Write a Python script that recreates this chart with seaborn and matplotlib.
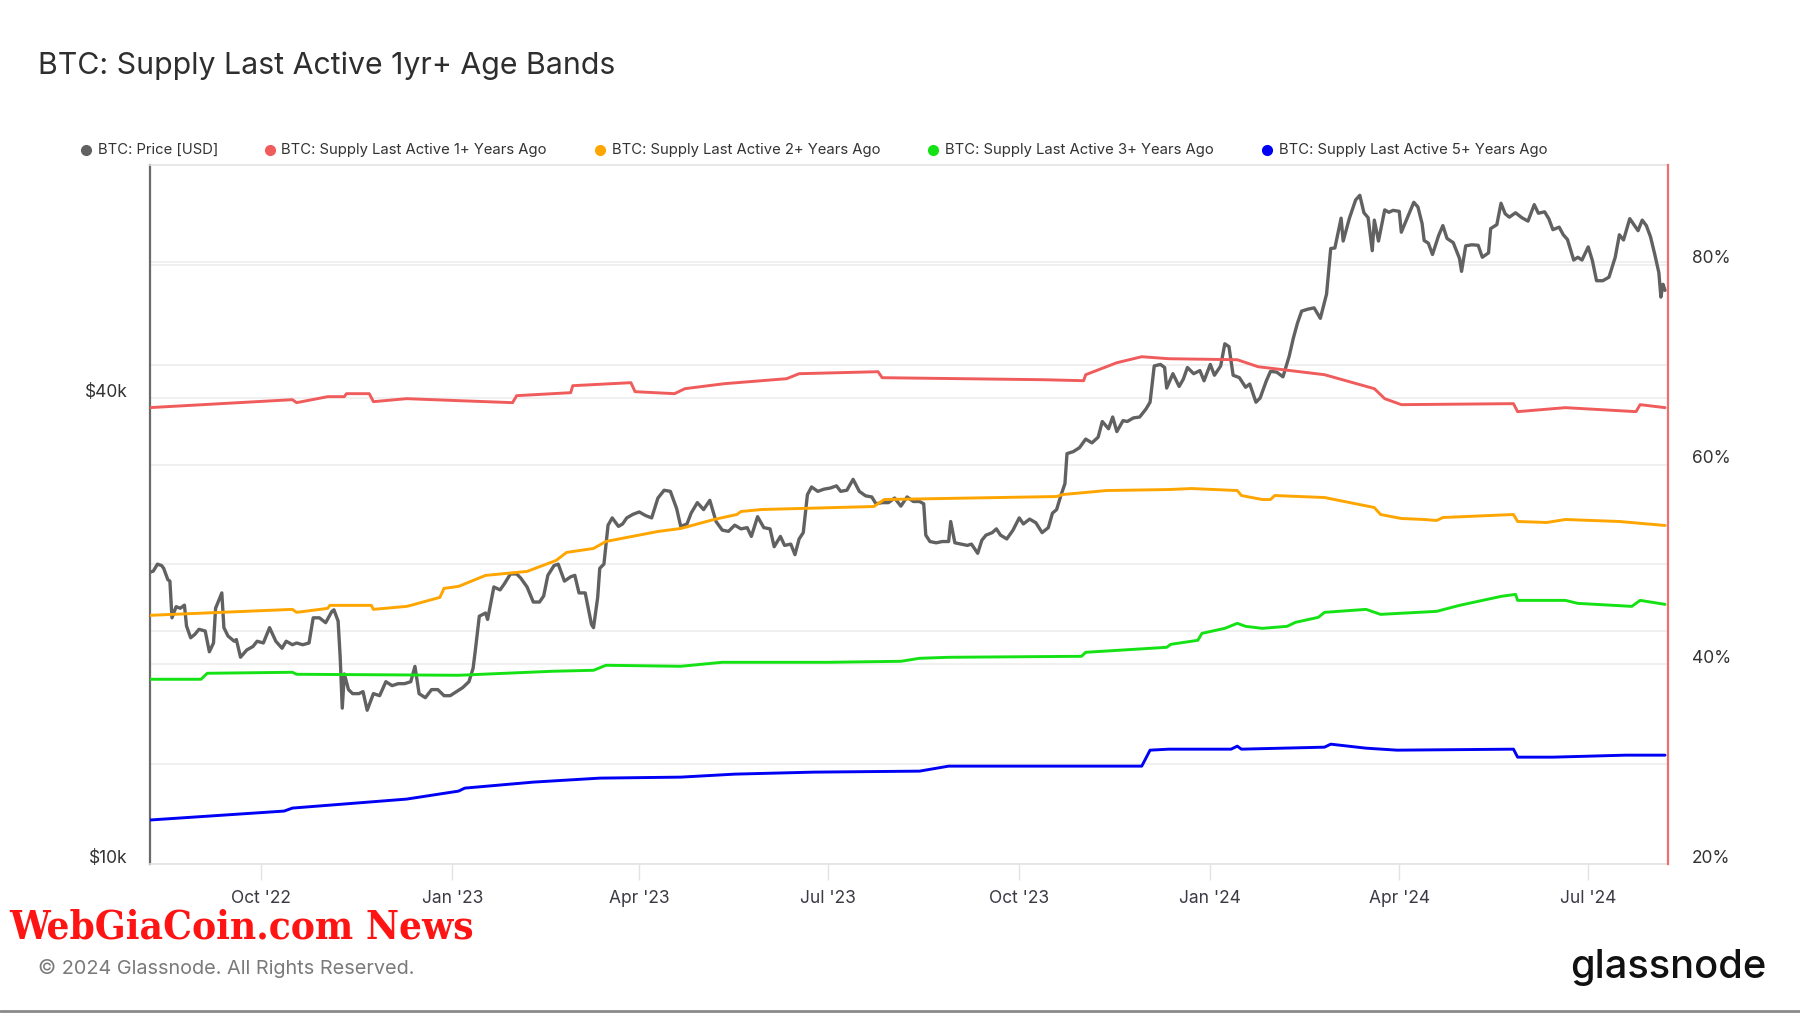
import matplotlib
matplotlib.use("Agg")
import matplotlib.pyplot as plt
import matplotlib.dates as mdates
import matplotlib.ticker as mticker
import matplotlib.transforms as mtransforms
from matplotlib.lines import Line2D
import seaborn as sns
import pandas as pd

# ---------------- data ----------------
price_dates = [
    "2022-08-08", "2022-08-10", "2022-08-12", "2022-08-14", "2022-08-15", "2022-08-17", "2022-08-18",
    "2022-08-19", "2022-08-21", "2022-08-23", "2022-08-25", "2022-08-26", "2022-08-28", "2022-08-30",
    "2022-09-01", "2022-09-04", "2022-09-06", "2022-09-08", "2022-09-09", "2022-09-12", "2022-09-13",
    "2022-09-15", "2022-09-18", "2022-09-19", "2022-09-21", "2022-09-24", "2022-09-27", "2022-09-29",
    "2022-10-02", "2022-10-05", "2022-10-08", "2022-10-11", "2022-10-13", "2022-10-16", "2022-10-18",
    "2022-10-21", "2022-10-24", "2022-10-26", "2022-10-29", "2022-11-01", "2022-11-04", "2022-11-05",
    "2022-11-07", "2022-11-08", "2022-11-09", "2022-11-10", "2022-11-12", "2022-11-14", "2022-11-17",
    "2022-11-19", "2022-11-21", "2022-11-24", "2022-11-27", "2022-11-30", "2022-12-03", "2022-12-06",
    "2022-12-09", "2022-12-12", "2022-12-14", "2022-12-16", "2022-12-19", "2022-12-22", "2022-12-25",
    "2022-12-28", "2022-12-31", "2023-01-03", "2023-01-06", "2023-01-09", "2023-01-11", "2023-01-12",
    "2023-01-14", "2023-01-17", "2023-01-18", "2023-01-21", "2023-01-24", "2023-01-26", "2023-01-29",
    "2023-02-01", "2023-02-03", "2023-02-06", "2023-02-09", "2023-02-12", "2023-02-14", "2023-02-16",
    "2023-02-19", "2023-02-21", "2023-02-24", "2023-02-27", "2023-03-01", "2023-03-03", "2023-03-06",
    "2023-03-09", "2023-03-10", "2023-03-12", "2023-03-13", "2023-03-15", "2023-03-17", "2023-03-19",
    "2023-03-22", "2023-03-24", "2023-03-26", "2023-03-29", "2023-04-01", "2023-04-04", "2023-04-07",
    "2023-04-10", "2023-04-13", "2023-04-16", "2023-04-19", "2023-04-21", "2023-04-24", "2023-04-26",
    "2023-04-29", "2023-05-02", "2023-05-05", "2023-05-08", "2023-05-11", "2023-05-14", "2023-05-17",
    "2023-05-20", "2023-05-23", "2023-05-25", "2023-05-28", "2023-05-31", "2023-06-03", "2023-06-05",
    "2023-06-08", "2023-06-10", "2023-06-13", "2023-06-15", "2023-06-17", "2023-06-19", "2023-06-21",
    "2023-06-23", "2023-06-26", "2023-06-29", "2023-07-02", "2023-07-05", "2023-07-07", "2023-07-10",
    "2023-07-13", "2023-07-16", "2023-07-19", "2023-07-22", "2023-07-24", "2023-07-27", "2023-07-30",
    "2023-08-02", "2023-08-05", "2023-08-08", "2023-08-11", "2023-08-14", "2023-08-16", "2023-08-17",
    "2023-08-19", "2023-08-22", "2023-08-25", "2023-08-28", "2023-08-29", "2023-08-31", "2023-09-03",
    "2023-09-06", "2023-09-08", "2023-09-11", "2023-09-13", "2023-09-15", "2023-09-18", "2023-09-20",
    "2023-09-22", "2023-09-25", "2023-09-28", "2023-10-01", "2023-10-03", "2023-10-06", "2023-10-09",
    "2023-10-12", "2023-10-15", "2023-10-17", "2023-10-19", "2023-10-21", "2023-10-23", "2023-10-24",
    "2023-10-27", "2023-10-30", "2023-11-02", "2023-11-05", "2023-11-08", "2023-11-10", "2023-11-13",
    "2023-11-15", "2023-11-17", "2023-11-20", "2023-11-22", "2023-11-25", "2023-11-28", "2023-12-01",
    "2023-12-03", "2023-12-05", "2023-12-08", "2023-12-10", "2023-12-11", "2023-12-14", "2023-12-17",
    "2023-12-19", "2023-12-21", "2023-12-24", "2023-12-27", "2023-12-29", "2024-01-01", "2024-01-03",
    "2024-01-06", "2024-01-08", "2024-01-10", "2024-01-12", "2024-01-15", "2024-01-18", "2024-01-20",
    "2024-01-23", "2024-01-25", "2024-01-28", "2024-01-30", "2024-02-02", "2024-02-05", "2024-02-08",
    "2024-02-10", "2024-02-12", "2024-02-14", "2024-02-17", "2024-02-20", "2024-02-23", "2024-02-26",
    "2024-02-28", "2024-03-01", "2024-03-04", "2024-03-05", "2024-03-08", "2024-03-11", "2024-03-13",
    "2024-03-15", "2024-03-17", "2024-03-19", "2024-03-20", "2024-03-22", "2024-03-25", "2024-03-27",
    "2024-03-29", "2024-04-01", "2024-04-02", "2024-04-05", "2024-04-08", "2024-04-10", "2024-04-12",
    "2024-04-13", "2024-04-15", "2024-04-17", "2024-04-20", "2024-04-22", "2024-04-24", "2024-04-27",
    "2024-04-30", "2024-05-01", "2024-05-03", "2024-05-06", "2024-05-09", "2024-05-11", "2024-05-14",
    "2024-05-15", "2024-05-18", "2024-05-20", "2024-05-22", "2024-05-24", "2024-05-27", "2024-05-30",
    "2024-06-02", "2024-06-05", "2024-06-07", "2024-06-10", "2024-06-12", "2024-06-14", "2024-06-17",
    "2024-06-19", "2024-06-21", "2024-06-24", "2024-06-26", "2024-06-28", "2024-07-01", "2024-07-03",
    "2024-07-05", "2024-07-08", "2024-07-11", "2024-07-14", "2024-07-16", "2024-07-18", "2024-07-21",
    "2024-07-22", "2024-07-25", "2024-07-27", "2024-07-29", "2024-07-31", "2024-08-02", "2024-08-04",
    "2024-08-05", "2024-08-06", "2024-08-07",
]
price_usd_k = [
    23.8, 23.9, 24.4, 24.3, 24.1, 23.3, 23.2,
    20.8, 21.5, 21.4, 21.6, 20.3, 19.6, 19.8,
    20.1, 20.0, 18.8, 19.3, 21.4, 22.4, 20.2,
    19.7, 19.4, 19.5, 18.5, 18.9, 19.1, 19.4,
    19.3, 20.2, 19.4, 19.0, 19.4, 19.2, 19.3,
    19.2, 19.3, 20.8, 20.8, 20.5, 21.2, 21.3,
    20.6, 18.5, 15.9, 17.6, 16.8, 16.6, 16.6,
    16.7, 15.8, 16.6, 16.5, 17.2, 17.0, 17.1,
    17.1, 17.2, 18.0, 16.6, 16.4, 16.8, 16.8,
    16.5, 16.5, 16.7, 16.9, 17.2, 17.9, 18.8,
    20.9, 21.1, 20.7, 22.8, 22.6, 23.0, 23.7,
    23.7, 23.4, 22.8, 21.8, 21.8, 22.2, 23.6,
    24.3, 24.4, 23.2, 23.5, 23.6, 22.4, 22.4,
    20.4, 20.2, 22.1, 24.1, 24.4, 27.4, 28.0,
    27.3, 27.5, 28.0, 28.3, 28.5, 28.2, 28.0,
    29.7, 30.4, 30.3, 28.8, 27.3, 27.5, 28.4,
    29.3, 28.7, 29.5, 27.7, 27.0, 26.9, 27.4,
    27.1, 27.2, 26.5, 28.1, 27.2, 27.1, 25.7,
    26.5, 25.8, 25.9, 25.1, 26.3, 26.8, 30.0,
    30.7, 30.3, 30.5, 30.6, 30.8, 30.3, 30.4,
    31.4, 30.3, 29.9, 29.8, 29.2, 29.3, 29.3,
    29.7, 29.0, 29.8, 29.4, 29.4, 29.2, 26.6,
    26.1, 26.0, 26.1, 26.1, 27.7, 26.0, 25.9,
    25.8, 25.9, 25.2, 26.2, 26.6, 26.8, 27.1,
    26.6, 26.3, 27.0, 28.0, 27.5, 27.9, 27.6,
    26.8, 27.2, 28.4, 28.7, 29.9, 31.0, 33.9,
    34.1, 34.5, 35.4, 35.0, 35.6, 37.3, 36.5,
    37.8, 36.2, 37.4, 37.3, 37.7, 37.8, 38.7,
    39.5, 44.0, 44.2, 43.8, 41.2, 43.0, 41.4,
    42.3, 43.8, 43.0, 43.4, 42.1, 44.2, 42.8,
    44.0, 47.0, 46.6, 42.8, 42.5, 41.3, 41.7,
    39.5, 40.0, 42.1, 43.3, 43.2, 42.6, 45.3,
    47.8, 50.0, 51.8, 52.1, 52.3, 50.7, 54.5,
    62.4, 62.5, 68.3, 63.8, 68.3, 72.1, 73.1,
    69.4, 68.4, 62.0, 67.9, 63.8, 70.0, 69.5,
    69.9, 69.7, 65.5, 68.5, 71.6, 70.6, 67.2,
    63.9, 63.4, 61.3, 64.9, 66.8, 64.3, 63.5,
    60.6, 58.3, 62.9, 63.1, 63.0, 60.8, 61.6,
    66.2, 67.0, 71.4, 69.2, 68.5, 69.4, 68.4,
    67.7, 71.1, 69.3, 69.6, 68.2, 66.0, 66.5,
    65.0, 64.1, 60.3, 60.8, 60.3, 62.7, 60.2,
    56.7, 56.7, 57.3, 60.8, 65.0, 64.0, 68.2,
    67.6, 65.8, 67.9, 66.8, 64.6, 61.4, 58.1,
    54.0, 56.1, 55.1,
]

sup1_dates = ["2022-08-08", "2022-10-16", "2022-10-18", "2022-11-02", "2022-11-10", "2022-11-11",
              "2022-11-22", "2022-11-24", "2022-12-10", "2023-01-04", "2023-01-30", "2023-02-01",
              "2023-02-27", "2023-02-28", "2023-03-28", "2023-03-30", "2023-04-18", "2023-04-23",
              "2023-05-12", "2023-06-11", "2023-06-17", "2023-07-25", "2023-07-27", "2023-10-12",
              "2023-11-01", "2023-11-02", "2023-11-17", "2023-11-29", "2023-12-12", "2024-01-14",
              "2024-01-24", "2024-02-25", "2024-03-20", "2024-03-25", "2024-04-02", "2024-05-26",
              "2024-05-28", "2024-06-20", "2024-07-24", "2024-07-26", "2024-08-07"]
sup1_pct = [65.7, 66.5, 66.2, 66.8, 66.8, 67.1, 67.1, 66.3, 66.6, 66.4, 66.2, 66.9, 67.2, 67.9,
            68.2, 67.3, 67.1, 67.6, 68.1, 68.6, 69.1, 69.3, 68.7, 68.5, 68.4, 69.0, 70.2, 70.8,
            70.6, 70.5, 69.8, 69.0, 67.6, 66.6, 66.0, 66.1, 65.3, 65.7, 65.3, 66.0, 65.7]

sup2_dates = ["2022-08-08", "2022-10-16", "2022-10-18", "2022-11-02", "2022-11-03", "2022-11-23",
              "2022-11-24", "2022-12-10", "2022-12-12", "2022-12-26", "2022-12-28", "2023-01-04",
              "2023-01-17", "2023-02-06", "2023-02-20", "2023-02-25", "2023-03-10", "2023-03-16",
              "2023-04-10", "2023-04-21", "2023-05-07", "2023-05-18", "2023-05-20", "2023-05-30",
              "2023-07-23", "2023-07-28", "2023-10-19", "2023-10-22", "2023-11-12", "2023-12-12",
              "2023-12-23", "2024-01-14", "2024-01-16", "2024-01-26", "2024-01-30", "2024-02-01",
              "2024-02-25", "2024-03-20", "2024-03-23", "2024-04-02", "2024-04-13", "2024-04-19",
              "2024-04-22", "2024-05-26", "2024-05-28", "2024-06-11", "2024-06-20", "2024-07-16",
              "2024-08-07"]
sup2_pct = [44.9, 45.5, 45.2, 45.6, 45.9, 45.9, 45.5, 45.8, 45.9, 46.7, 47.6, 47.8, 48.9, 49.3,
            50.4, 51.2, 51.6, 52.3, 53.3, 53.6, 54.5, 55.0, 55.3, 55.5, 55.8, 56.5, 56.8, 57.0,
            57.4, 57.5, 57.6, 57.4, 56.9, 56.5, 56.5, 56.9, 56.7, 55.7, 55.0, 54.6, 54.5, 54.4,
            54.7, 55.0, 54.3, 54.2, 54.5, 54.3, 53.9]

sup3_dates = ["2022-08-08", "2022-09-02", "2022-09-05", "2022-10-16", "2022-10-18", "2023-01-04",
              "2023-02-18", "2023-03-10", "2023-03-16", "2023-04-21", "2023-05-11", "2023-07-01",
              "2023-08-05", "2023-08-14", "2023-08-28", "2023-10-31", "2023-11-02", "2023-12-11",
              "2023-12-13", "2023-12-26", "2023-12-28", "2024-01-08", "2024-01-14", "2024-01-18",
              "2024-01-26", "2024-02-07", "2024-02-11", "2024-02-22", "2024-02-25", "2024-03-16",
              "2024-03-23", "2024-04-19", "2024-04-30", "2024-05-20", "2024-05-27", "2024-05-28",
              "2024-06-20", "2024-06-26", "2024-07-22", "2024-07-26", "2024-08-07"]
sup3_pct = [38.5, 38.5, 39.1, 39.2, 39.0, 38.9, 39.3, 39.4, 39.9, 39.8, 40.2, 40.2, 40.3, 40.6,
            40.7, 40.8, 41.2, 41.7, 42.0, 42.4, 43.1, 43.6, 44.1, 43.8, 43.6, 43.8, 44.2, 44.7,
            45.2, 45.5, 45.0, 45.3, 45.9, 46.8, 47.0, 46.4, 46.4, 46.1, 45.8, 46.4, 46.0]

sup5_dates = ["2022-08-08", "2022-10-12", "2022-10-16", "2022-12-10", "2023-01-04", "2023-01-07",
              "2023-02-09", "2023-03-13", "2023-04-21", "2023-05-17", "2023-06-24", "2023-08-14",
              "2023-08-28", "2023-11-29", "2023-12-03", "2023-12-12", "2024-01-11", "2024-01-14",
              "2024-01-16", "2024-02-25", "2024-02-28", "2024-03-16", "2024-03-31", "2024-05-26",
              "2024-05-28", "2024-06-14", "2024-07-19", "2024-08-07"]
sup5_pct = [24.4, 25.3, 25.6, 26.5, 27.3, 27.6, 28.2, 28.6, 28.7, 29.0, 29.2, 29.3, 29.8, 29.8,
            31.4, 31.5, 31.5, 31.8, 31.5, 31.7, 32.0, 31.6, 31.4, 31.5, 30.7, 30.7, 30.9, 30.9]

legend_labels = ["BTC: Price [USD]", "BTC: Supply Last Active 1+ Years Ago",
                 "BTC: Supply Last Active 2+ Years Ago", "BTC: Supply Last Active 3+ Years Ago",
                 "BTC: Supply Last Active 5+ Years Ago"]
x_tick_dates = ["2022-10-01", "2023-01-01", "2023-04-01", "2023-07-01", "2023-10-01",
                "2024-01-01", "2024-04-01", "2024-07-01"]
x_tick_labels = ["Oct '22", "Jan '23", "Apr '23", "Jul '23", "Oct '23", "Jan '24", "Apr '24", "Jul '24"]
left_ticks = [10000, 20000, 40000, 60000]
left_labels = ["$10k", "", "$40k", ""]
right_ticks = [20, 30, 40, 50, 60, 70, 80]
right_labels = ["20%", "", "40%", "", "60%", "", "80%"]

# ---------------- style ----------------
C_PRICE = "#616161"
C_1 = "#f05b5b"
C_2 = "#ffa500"
C_3 = "#14e214"
C_5 = "#0000f5"
GRID = "#eeeeee"
TXT = "#333333"

sns.set_theme(style="white")
plt.rcParams['font.family'] = ['Inter', 'DejaVu Sans']

W, H = 1800, 1013
fig = plt.figure(figsize=(W / 100, H / 100), dpi=100)
fig.patch.set_facecolor("white")
L, R, T, B = 150, 1668, 165, 864
ax = fig.add_axes([L / W, 1 - B / H, (R - L) / W, (B - T) / H])
ax2 = ax.twinx()

price_df = pd.DataFrame({"date": pd.to_datetime(price_dates),
                         "price": [v * 1000 for v in price_usd_k]})
sns.lineplot(data=price_df, x="date", y="price", ax=ax, color=C_PRICE, linewidth=2.4)
ax.set_yscale("log")
ax.set_ylim(10000, 80000)

for dates, vals, col in [(sup1_dates, sup1_pct, C_1), (sup2_dates, sup2_pct, C_2),
                         (sup3_dates, sup3_pct, C_3), (sup5_dates, sup5_pct, C_5)]:
    df = pd.DataFrame({"date": pd.to_datetime(dates), "pct": vals})
    sns.lineplot(data=df, x="date", y="pct", ax=ax2, color=col, linewidth=2.1)
ax2.set_ylim(20, 90)

ax.set_xlim(pd.Timestamp("2022-08-08 10:00"), pd.Timestamp("2024-08-08 10:00"))

# gridlines (both axes, drawn beneath the data)
ax.yaxis.grid(True, color=GRID, linewidth=1.2)
ax.set_axisbelow(True)
for v in right_ticks[1:]:
    f = (v - 20) / 70
    ax.plot([0, 1], [f, f], transform=ax.transAxes, color=GRID, lw=1.2, zorder=0.5)
ax2.yaxis.grid(False)
ax.xaxis.grid(False)

# ticks
ax.xaxis.set_major_locator(mticker.FixedLocator(mdates.date2num(pd.to_datetime(x_tick_dates))))
ax.xaxis.set_major_formatter(mticker.FixedFormatter(x_tick_labels))
ax.tick_params(axis="x", length=11.5, width=1, color="#e3e3e3", pad=7,
               labelsize=12.5, labelcolor="#3a3a44", bottom=True)
ax.yaxis.set_major_locator(mticker.FixedLocator(left_ticks))
ax.yaxis.set_major_formatter(mticker.FixedFormatter(left_labels))
ax.yaxis.set_minor_locator(mticker.NullLocator())
ax.tick_params(axis="y", length=0, pad=16, labelsize=12.5, labelcolor=TXT)
ax2.yaxis.set_major_locator(mticker.FixedLocator(right_ticks))
ax2.yaxis.set_major_formatter(mticker.FixedFormatter(right_labels))
ax2.tick_params(axis="y", length=0, pad=17, labelsize=12.5, labelcolor=TXT)
ax.set_xlabel("")
ax.set_ylabel("")
ax2.set_xlabel("")
ax2.set_ylabel("")

# spines
for s in ["top", "bottom"]:
    ax.spines[s].set_color("#e3e3e3")
    ax.spines[s].set_linewidth(1.2)
ax.spines["left"].set_color("#6a6a6a")
ax.spines["left"].set_linewidth(1.6)
ax.spines["right"].set_visible(False)
for s in ["top", "bottom", "left"]:
    ax2.spines[s].set_visible(False)
ax2.spines["right"].set_color("#f26d6d")
ax2.spines["right"].set_linewidth(1.6)

# shift y tick labels slightly above their gridlines
off = mtransforms.ScaledTranslation(0, 8 / 100, fig.dpi_scale_trans)
for lbl in ax.yaxis.get_majorticklabels() + ax2.yaxis.get_majorticklabels():
    lbl.set_transform(lbl.get_transform() + off)

# title
fig.text(38 / W, 1 - 66 / H, "BTC: Supply Last Active 1yr+ Age Bands", fontsize=21.8,
         color="#2e2e2e", ha="left", va="center")

# legend
dot_x = [86, 270, 600, 933, 1267]
txt_x = [98, 281, 612, 945, 1279]
cols = [C_PRICE, C_1, C_2, C_3, C_5]
ly = 1 - 150 / H
for dx, tx, col, lab in zip(dot_x, txt_x, cols, legend_labels):
    fig.add_artist(Line2D([dx / W], [ly], marker="o", markersize=7, color=col,
                          linestyle="none", transform=fig.transFigure))
    fig.text(tx / W, ly, lab, fontsize=10.7, color=TXT, ha="left", va="center")

# footer
fig.text(9 / W, 1 - 927 / H, "WebGiaCoin.com News", fontsize=29, fontweight="bold",
         family=["DejaVu Serif"], fontstretch="condensed", color="#ff1414",
         ha="left", va="center")
fig.text(38 / W, 1 - 968 / H, "© 2024 Glassnode. All Rights Reserved.", fontsize=14.3,
         color="#7a7a7a", ha="left", va="center")
fig.text(1570 / W, 1 - 978 / H, "glassnode", fontsize=28.7, color="#111111",
         ha="left", va="baseline", fontweight="medium")
fig.add_artist(Line2D([0, 1], [1 - 1011 / H, 1 - 1011 / H], color="#8a8a8a", lw=2,
                      transform=fig.transFigure))

fig.savefig("out.png", dpi=100, facecolor="white")
